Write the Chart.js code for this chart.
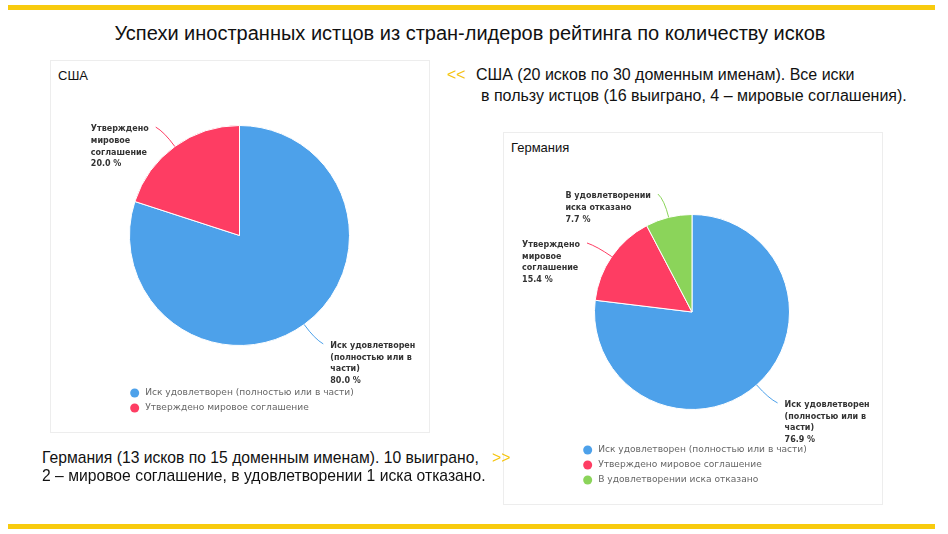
<!DOCTYPE html>
<html lang="ru">
<head>
<meta charset="utf-8">
<script src="https://cdn.jsdelivr.net/npm/chart.js@4.4.1/dist/chart.umd.min.js"></script>
<style>
  body { margin: 0; background: #fff; }
  #page { position: relative; width: 948px; height: 534px; overflow: hidden; font-family: "Liberation Sans", Arial, sans-serif; }
  .bar { position: absolute; left: 8px; width: 927px; height: 5px; background: #f8cb0e; }
  .title { position: absolute; top: 22px; left: 0; width: 940px; text-align: center; font-size: 20px; color: #111; white-space: nowrap; }
  .card { position: absolute; width: 380px; height: 373px; box-sizing: border-box; border: 1px solid #ededed; }
  .card canvas { position: absolute; left: 0; top: 0; }
  .card .name { position: absolute; left: 7px; top: 7px; font-size: 13px; color: #111; }
  .note { position: absolute; color: #111; white-space: nowrap; line-height: 20px; }
  .arrow { color: #f5c40f; }
</style>
</head>
<body>
<div id="page">
  <div class="bar" style="top:5px"></div>
  <div class="title">Успехи иностранных истцов из стран-лидеров рейтинга по количеству исков</div>

  <div class="card" style="left:50px; top:60px">
    <div class="name">США</div>
    <canvas id="usaChart" width="378" height="371"></canvas>
  </div>

  <div class="card" style="left:503px; top:132px">
    <div class="name">Германия</div>
    <canvas id="deChart" width="378" height="371"></canvas>
  </div>

  <div class="note arrow" style="left:447px; top:65px; font-size:16px">&lt;&lt;</div>
  <div class="note" style="left:476px; top:65px; font-size:16px">США (20 исков по 30 доменным именам). Все иски</div>
  <div class="note" style="left:481px; top:86px; font-size:16px">в пользу истцов (16 выиграно, 4 – мировые соглашения).</div>

  <div class="note" style="left:42px; top:448px; font-size:15.7px">Германия (13 исков по 15 доменным именам). 10 выиграно,</div>
  <div class="note arrow" style="left:492px; top:448px; font-size:15.7px">&gt;&gt;</div>
  <div class="note" style="left:42px; top:466px; font-size:15.7px">2 – мировое соглашение, в удовлетворении 1 иска отказано.</div>

  <div class="bar" style="top:524px"></div>
</div>
<script>
const usaLabels = ['Иск удовлетворен (полностью или в части)', 'Утверждено мировое соглашение'];
const usaValues = [16, 4];

const deLabels = ['Иск удовлетворен (полностью или в части)', 'Утверждено мировое соглашение', 'В удовлетворении иска отказано'];
const deValues = [10, 2, 1];

const sliceColors = ['#4da1ea', '#fe3d63', '#8bd45a'];

function wrapText(ctx, text, maxWidth) {
    const words = text.split(' ');
    const lines = [];
    let line = '';
    words.forEach(function(w) {
        const test = line ? line + ' ' + w : w;
        if (line && ctx.measureText(test).width > maxWidth) {
            lines.push(line);
            line = w;
        } else {
            line = test;
        }
    });
    if (line) lines.push(line);
    return lines;
}

// labels with connector lines outside the slices
const sliceLabels = {
    id: 'sliceLabels',
    afterDatasetsDraw(chart) {
        const ctx = chart.ctx;
        const ds = chart.data.datasets[0];
        const total = ds.data.reduce((a, b) => a + b, 0);
        ctx.save();
        ctx.font = 'bold 8px "DejaVu Sans", Verdana, sans-serif';
        ctx.textBaseline = 'middle';
        chart.getDatasetMeta(0).data.forEach(function(arc, i) {
            const p = arc.getProps(['x', 'y', 'startAngle', 'endAngle', 'outerRadius'], true);
            const mid = (p.startAngle + p.endAngle) / 2;
            const cos = Math.cos(mid), sin = Math.sin(mid);
            const r = p.outerRadius;
            const x0 = p.x + cos * r, y0 = p.y + sin * r;
            const cx = p.x + cos * (r + 18), cy = p.y + sin * (r + 18);
            const side = cos >= 0 ? 1 : -1;
            const x1 = p.x + cos * (r + 24) + side * 5, y1 = p.y + sin * (r + 24);

            ctx.strokeStyle = ds.backgroundColor[i];
            ctx.lineWidth = 1;
            ctx.beginPath();
            ctx.moveTo(x0, y0);
            ctx.quadraticCurveTo(cx, cy, x1, y1);
            ctx.stroke();

            const lines = wrapText(ctx, chart.data.labels[i], 92);
            lines.push((ds.data[i] / total * 100).toFixed(1) + ' %');
            const w = Math.max.apply(null, lines.map(l => ctx.measureText(l).width));
            const tx = side > 0 ? x1 + 7 : x1 - 7 - w;
            ctx.fillStyle = '#333';
            ctx.textAlign = 'left';
            lines.forEach(function(l, k) {
                ctx.fillText(l, tx, y1 + 2 + k * 11.7);
            });
        });
        ctx.restore();
    }
};

// legend block centred under the pie, rows aligned left
const blockLegend = {
    id: 'blockLegend',
    afterDraw(chart) {
        const ctx = chart.ctx;
        const ds = chart.data.datasets[0];
        const labels = chart.data.labels;
        ctx.save();
        ctx.font = '9.1px "DejaVu Sans", Verdana, sans-serif';
        ctx.textBaseline = 'middle';
        const maxW = Math.max.apply(null, labels.map(l => ctx.measureText(l).width));
        const blockW = 15 + maxW;
        const left = chart.width / 2 - blockW / 2 + 2;
        const lastY = chart.height - 24;
        labels.forEach(function(l, i) {
            const y = lastY - (labels.length - 1 - i) * 15;
            ctx.fillStyle = ds.backgroundColor[i];
            ctx.beginPath();
            ctx.arc(left + 4.5, y, 4.5, 0, Math.PI * 2);
            ctx.fill();
            ctx.fillStyle = '#666';
            ctx.fillText(l, left + 15, y);
        });
        ctx.restore();
    }
};

function makePie(id, labels, values, padding) {
    const ctx = document.getElementById(id).getContext('2d');
    return new Chart(ctx, {
        type: 'pie',
        data: {
            labels: labels,
            datasets: [{
                data: values,
                backgroundColor: sliceColors.slice(0, values.length),
                borderColor: '#fff',
                borderWidth: 1
            }]
        },
        options: {
            responsive: false,
            animation: false,
            layout: { padding: padding },
            plugins: {
                legend: { display: false },
                tooltip: { enabled: false }
            }
        },
        plugins: [sliceLabels, blockLegend]
    });
}

makePie('usaChart', usaLabels, usaValues, { left: 78, right: 79, top: 64, bottom: 86 });
makePie('deChart', deLabels, deValues, { left: 90, right: 92, top: 81, bottom: 94 });
</script>
</body>
</html>
